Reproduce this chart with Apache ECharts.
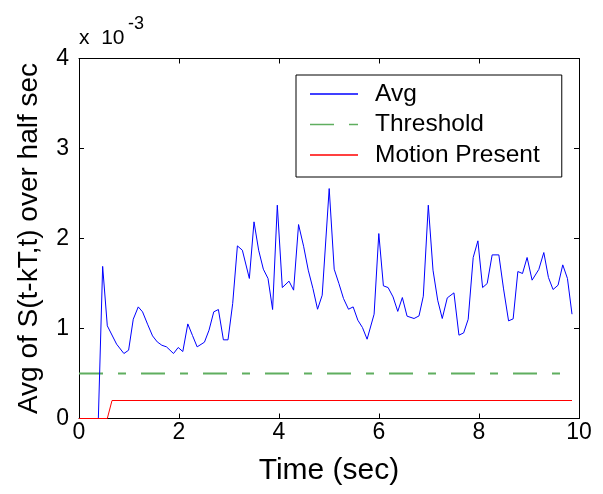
<!DOCTYPE html>
<html>
<head>
<meta charset="utf-8">
<script src="https://cdn.jsdelivr.net/npm/echarts@6/dist/echarts.min.js"></script>
<style>
html,body{margin:0;padding:0;background:#fff;}
#chart{width:603px;height:494px;}
</style>
</head>
<body>
<div id="chart"></div>
<script>
// Time (sec) of each sample of the "Avg" trace
const avgTimes = [0, 0.387, 0.473, 0.566, 0.752, 0.898, 0.992, 1.085, 1.185, 1.271, 1.371, 1.471, 1.565, 1.657, 1.75,
  1.89, 1.984, 2.076, 2.176, 2.27, 2.363, 2.509, 2.6, 2.695, 2.788, 2.888, 2.98, 3.074, 3.168, 3.267, 3.407,
  3.5, 3.593, 3.687, 3.78, 3.872, 3.966, 4.066, 4.2, 4.292, 4.391, 4.492, 4.585, 4.679, 4.771, 4.864,
  5.004, 5.104, 5.198, 5.29, 5.39, 5.483, 5.577, 5.669, 5.762, 5.902, 5.996, 6.088, 6.182, 6.281, 6.375,
  6.467, 6.561, 6.701, 6.8, 6.886, 6.986, 7.08, 7.174, 7.265, 7.365, 7.499, 7.599, 7.693, 7.784, 7.884,
  7.978, 8.072, 8.164, 8.263, 8.397, 8.491, 8.591, 8.683, 8.777, 8.87, 8.962, 9.062, 9.196, 9.296, 9.389,
  9.481, 9.581, 9.675, 9.769, 9.86];
// Avg values, in units of 10^-3
const avgValues = [0, 0, 1.69, 1.03, 0.826, 0.722, 0.759, 1.103, 1.24, 1.185, 1.048, 0.918, 0.851, 0.814, 0.796,
  0.722, 0.789, 0.744, 1.051, 0.922, 0.796, 0.848, 0.981, 1.185, 1.211, 0.874, 0.874, 1.278, 1.918, 1.87, 1.556,
  2.185, 1.87, 1.659, 1.556, 1.211, 2.37, 1.455, 1.526, 1.426, 2.155, 1.914, 1.648, 1.444, 1.214, 1.37,
  2.555, 1.659, 1.5, 1.333, 1.214, 1.24, 1.092, 1.011, 0.881, 1.159, 2.055, 1.474, 1.455, 1.351, 1.19,
  1.344, 1.137, 1.111, 1.14, 1.359, 2.37, 1.648, 1.314, 1.111, 1.34, 1.396, 0.926, 0.951, 1.103, 1.789,
  1.974, 1.455, 1.5, 1.818, 1.818, 1.44, 1.085, 1.107, 1.633, 1.611, 1.789, 1.537, 1.656, 1.844, 1.567,
  1.433, 1.481, 1.707, 1.556, 1.159];
const thresholdTimes = [0, 9.86];
const thresholdValues = [0.5, 0.5];
const motionTimes = [0, 0.566, 0.66, 9.86];
const motionValues = [0, 0, 0.2, 0.2];
const xTicks = [0, 2, 4, 6, 8, 10];
const yTicks = [0, 1, 2, 3, 4];
const seriesNames = ['Avg', 'Threshold', 'Motion Present'];

const FONT = 'Liberation Sans, Arial, Helvetica, sans-serif';
const pairs = (t, v) => t.map((x, i) => [x, v[i]]);

const chart = echarts.init(document.getElementById('chart'), null, {renderer: 'canvas'});
const axisCommon = {
  axisLine: {show: true, onZero: false, lineStyle: {color: '#000', width: 1}},
  axisTick: {show: true, inside: true, length: 5, lineStyle: {color: '#000', width: 1}},
  splitLine: {show: false}
};
const solidIcon = 'path://M0,0h48v1.5h-48z';
const dashIcon = 'path://M0,0h24v1.5h-24zM39,0h9v1.5h-9z';
chart.setOption({
  animation: false,
  backgroundColor: '#fff',
  grid: {left: 79, top: 58.5, width: 500, height: 360, show: false},
  graphic: [
    {type: 'text', left: 79, top: 28, style: {text: 'x  10', font: '21px ' + FONT, fill: '#000'}},
    {type: 'text', left: 128, top: 15, style: {text: '-3', font: '18px ' + FONT, fill: '#000'}}
  ],
  legend: {
    orient: 'vertical', left: 296, top: 75,
    data: [
      {name: seriesNames[0], icon: solidIcon},
      {name: seriesNames[1], icon: dashIcon},
      {name: seriesNames[2], icon: solidIcon}
    ],
    symbolKeepAspect: false,
    backgroundColor: '#fff', borderColor: '#000', borderWidth: 1, borderRadius: 0,
    padding: [4, 22, 7, 14],
    itemWidth: 48, itemHeight: 1.5, itemGap: 0.5,
    textStyle: {fontSize: 24.5, lineHeight: 30, fontFamily: FONT, color: '#000', padding: [0, 0, 0, 12]}
  },
  xAxis: [
    Object.assign({
      type: 'value', min: xTicks[0], max: xTicks[xTicks.length - 1], interval: 2, position: 'bottom',
      name: 'Time (sec)', nameLocation: 'middle', nameGap: 37,
      nameTextStyle: {fontSize: 30, fontFamily: FONT, color: '#000'},
      axisLabel: {fontSize: 23, fontFamily: FONT, color: '#000', margin: 3}
    }, axisCommon),
    Object.assign({
      type: 'value', min: xTicks[0], max: xTicks[xTicks.length - 1], interval: 2, position: 'top',
      axisLabel: {show: false}
    }, axisCommon)
  ],
  yAxis: [
    Object.assign({
      type: 'value', min: yTicks[0], max: yTicks[yTicks.length - 1], interval: 1, position: 'left',
      name: 'Avg of S(t-kT,t) over half sec', nameLocation: 'middle', nameGap: 36, nameRotate: 90,
      nameTextStyle: {fontSize: 28, fontFamily: FONT, color: '#000'},
      axisLabel: {fontSize: 23, fontFamily: FONT, color: '#000', margin: 10}
    }, axisCommon),
    Object.assign({
      type: 'value', min: yTicks[0], max: yTicks[yTicks.length - 1], interval: 1, position: 'right',
      axisLabel: {show: false}
    }, axisCommon)
  ],
  series: [
    {name: seriesNames[0], type: 'line', data: pairs(avgTimes, avgValues), symbol: 'none',
      lineStyle: {color: '#0000ff', width: 1}, itemStyle: {color: '#0000ff'}, z: 3},
    {name: seriesNames[1], type: 'line', data: pairs(thresholdTimes, thresholdValues), symbol: 'none',
      lineStyle: {color: '#5fae5f', width: 2, type: [24, 15, 8, 15]}, itemStyle: {color: '#5fae5f'}, z: 2},
    {name: seriesNames[2], type: 'line', data: pairs(motionTimes, motionValues), symbol: 'none',
      lineStyle: {color: '#ff0000', width: 1}, itemStyle: {color: '#ff0000'}, z: 4}
  ]
});
</script>
</body>
</html>
